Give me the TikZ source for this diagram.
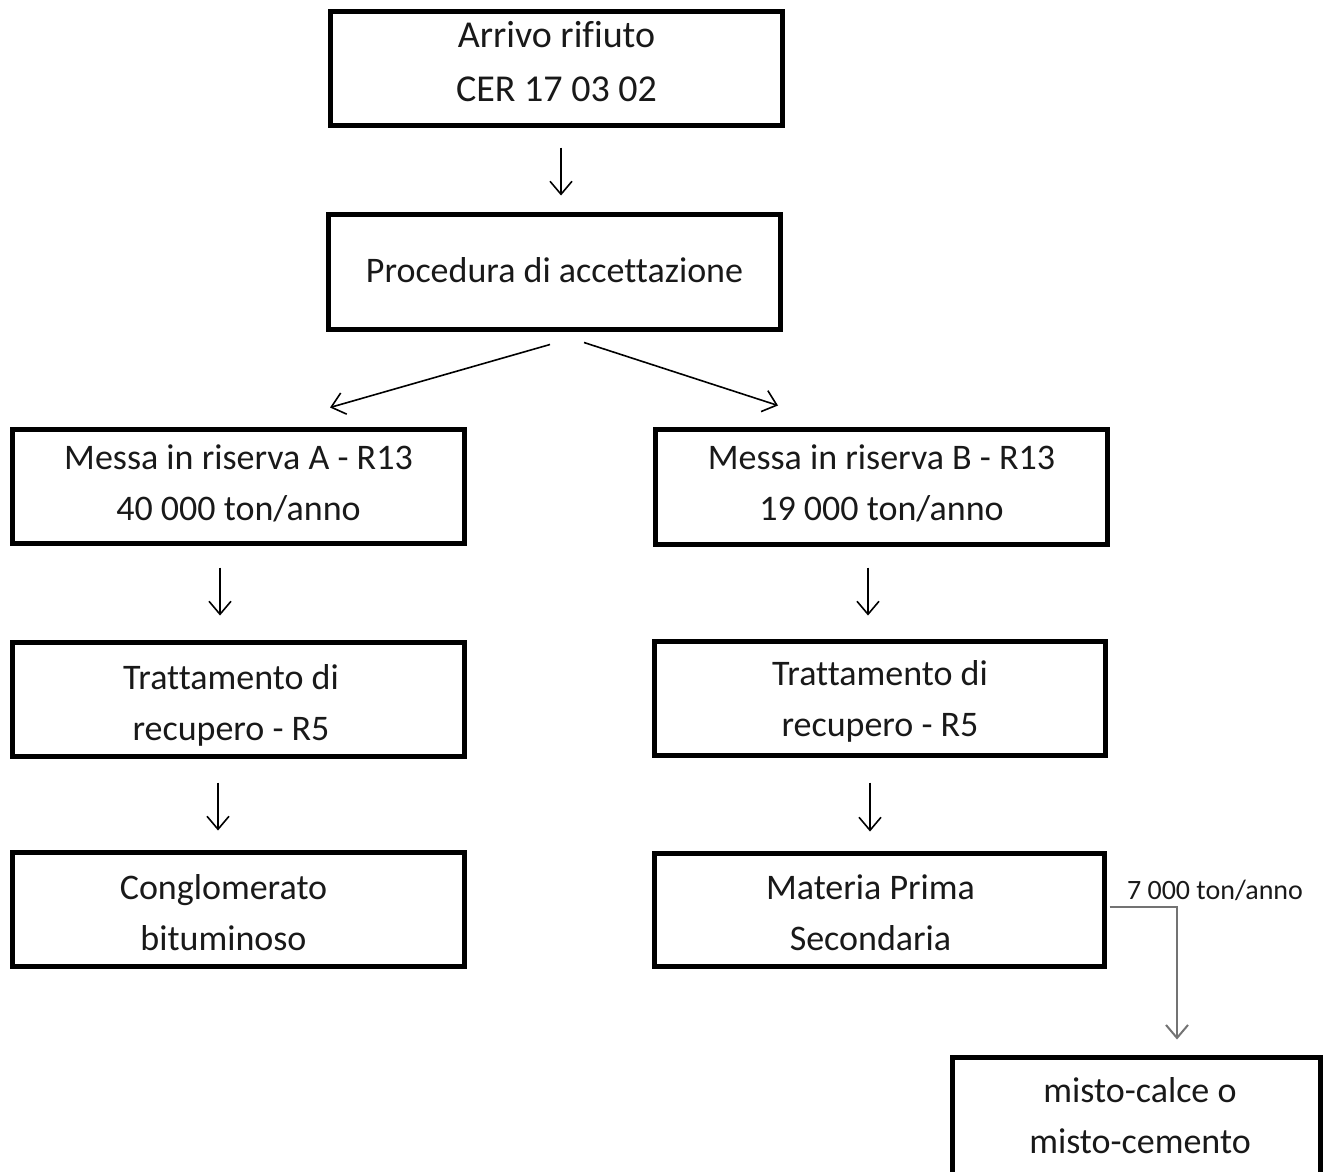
\documentclass[tikz,border=0pt]{standalone}
\usepackage{fontspec}
\setmainfont{Carlito}[Ligatures=CommonOff]
\usetikzlibrary{arrows.meta,calc}
% #1 = twice the horizontal shift, #2 = vertical lift, #3 = lines
\newcommand\mylift[3]{\hspace*{#1}\raisebox{#2}[\height][\depth]{\begin{tabular}{@{}c@{}}#3\end{tabular}}}
\tikzset{
  box/.style={draw=black, line width=5pt, minimum width=452pt, minimum height=114pt, inner sep=0pt,
    font=\fontsize{36pt}{51pt}\selectfont, text=black!90},
  arr/.style={draw=black, line width=1.6pt, -{Straight Barb[length=13pt,width=22pt,line width=1.6pt]}},
  garr/.style={draw=black!55, line width=2pt, -{Straight Barb[length=13pt,width=22pt,line width=2pt]}},
  lbl/.style={font=\fontsize{28pt}{34pt}\selectfont, text=black!90, inner sep=0pt}
}
\begin{document}
\begin{tikzpicture}[x=1pt,y=-1pt]
\useasboundingbox (0,0) rectangle (1331,1171);
\node[box, font=\fontsize{38pt}{54pt}\selectfont] (b1) at (556.5,68.5) {\mylift{0pt}{4.5pt}{Arrivo rifiuto\\CER 17 03 02}};
\node[box, minimum height=115pt] (b2) at (554.5,272) {\mylift{0pt}{0pt}{Procedura di accettazione}};
\node[box] (bA) at (238.5,486.5) {\mylift{0pt}{1.5pt}{Messa in riserva A - R13\\40 000 ton/anno}};
\node[box, minimum height=115pt] (bB) at (881.5,487) {\mylift{0pt}{2.5pt}{Messa in riserva B - R13\\19 000 ton/anno}};
\node[box] (bA2) at (238.5,699.5) {\mylift{-15pt}{-5.5pt}{Trattamento di\\recupero - R5}};
\node[box, minimum width=451pt] (bB2) at (880,698.5) {\mylift{0pt}{-2pt}{Trattamento di\\recupero - R5}};
\node[box] (bA3) at (238,909.5) {\mylift{-29pt}{-5pt}{Conglomerato\\bituminoso}};
\node[box, minimum width=450pt, minimum height=113pt] (bB3) at (879.5,910) {\mylift{-18pt}{-5pt}{Materia Prima\\Secondaria}};
\node[box, minimum width=368pt, minimum height=150pt] (bC) at (1136.5,1132.5) {\mylift{7pt}{15pt}{misto-calce o\\misto-cemento}};
\node[lbl] (l7) at (1215,890) {7 000 ton/anno};

\draw[arr] ($(b1.south)+(4.5,19.5)$) -- ($(b2.north)+(6.5,-16.5)$);
\draw[arr] ($(b2.south)+(-4.5,12.5)$) -- ($(bA.north)+(91.5,-19.5)$);
\draw[arr] ($(b2.south)+(29.5,10.5)$) -- ($(bB.north)+(-103.5,-21.5)$);
\draw[arr] ($(bA.south)+(-18.5,21.5)$) -- ($(bA2.north)+(-18.5,-24.5)$);
\draw[arr] ($(bB.south)+(-13.5,20.5)$) -- ($(bB2.north)+(-12,-23.5)$);
\draw[arr] ($(bA2.south)+(-20.5,23.5)$) -- ($(bA3.north)+(-20,-19.5)$);
\draw[arr] ($(bB2.south)+(-10,24.5)$) -- ($(bB3.north)+(-9.5,-19.5)$);
\draw[garr] ($(bB3.east)+(2.5,-3)$) -| ($(bC.north)+(40.5,-15.5)$);
\end{tikzpicture}
\end{document}
